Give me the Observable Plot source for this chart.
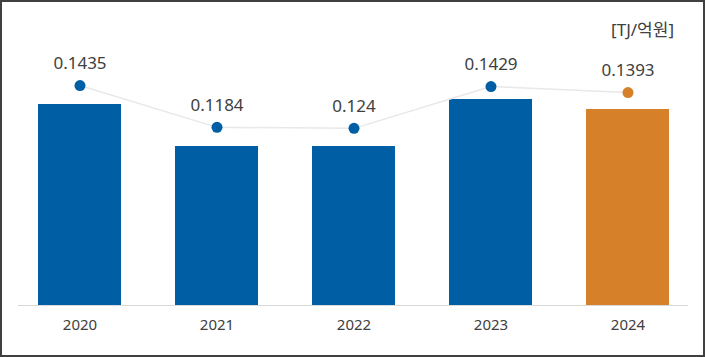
<!DOCTYPE html>
<html>
<head>
<meta charset="utf-8">
<script src="https://cdn.jsdelivr.net/npm/d3@7"></script>
<script src="https://cdn.jsdelivr.net/npm/@observablehq/plot@0.6"></script>
<style>
  html, body { margin: 0; padding: 0; background: #fff; }
  #wrap { position: relative; width: 705px; height: 357px; overflow: hidden; font-family: "Noto Sans", "Noto Sans CJK KR", sans-serif; }
  #wrap svg { position: absolute; left: 0; top: 0; }
  #border { position: absolute; left: 0; top: 0; width: 705px; height: 357px; box-sizing: border-box; border: 2px solid #404040; pointer-events: none; }
  #unit { position: absolute; right: 31px; top: 16px; font-size: 17px; color: #404040; }
</style>
</head>
<body>
<div id="wrap">
  <div id="unit">[TJ/억원]</div>
  <div id="border"></div>
</div>
<script>
const years = ["2020", "2021", "2022", "2023", "2024"];
// bar heights (relative)
const barValues = [201, 159, 159, 206, 196];
// line point levels and their printed labels
const lineValues = [0.1435, 0.1184, 0.1178, 0.1429, 0.1393];
const lineLabels = ["0.1435", "0.1184", "0.124", "0.1429", "0.1393"];
const barColors = ["#005EA5", "#005EA5", "#005EA5", "#005EA5", "#D6802A"];

const bars = years.map((y, i) => ({year: y, value: barValues[i], color: barColors[i]}));
const pts = years.map((y, i) => ({year: y, value: lineValues[i], label: lineLabels[i], color: barColors[i]}));

const W = 705, H = 357;
const xScale = {domain: years, range: [10.4, 696.6], paddingInner: 0.395, paddingOuter: 0.1975};

const barPlot = Plot.plot({
  width: W, height: H,
  marginLeft: 18, marginRight: 17, marginTop: 0, marginBottom: 52,
  style: {fontFamily: "Noto Sans, sans-serif", fontSize: "15px", color: "#404040", background: "transparent", overflow: "visible"},
  x: {...xScale, type: "band", label: null},
  y: {domain: [0, 220], range: [305, 85], axis: null},
  marks: [
    Plot.barY(bars, {x: "year", y: "value", fill: "color"}),
    Plot.ruleY([0], {stroke: "#d9d9d9", strokeWidth: 1.2}),
    Plot.axisX({tickSize: 0, tickPadding: 14, fill: "#404040", fontSize: 15})
  ]
});

const linePlot = Plot.plot({
  width: W, height: H,
  marginLeft: 18, marginRight: 17, marginTop: 0, marginBottom: 52,
  style: {fontFamily: "Noto Sans, sans-serif", fontSize: "17px", background: "transparent", overflow: "visible"},
  x: {...xScale, type: "band", axis: null},
  y: {domain: [0.10, 0.15], range: [157.5, 74.2], axis: null},
  marks: [
    Plot.line(pts, {x: "year", y: "value", stroke: "#e8e8e8", strokeWidth: 1.5}),
    Plot.dot(pts, {x: "year", y: "value", r: 5.5, fill: "color", stroke: null}),
    Plot.text(pts, {x: "year", y: "value", text: "label", dy: -22, fill: "#404040", fontSize: 17})
  ]
});

const wrap = document.getElementById("wrap");
wrap.insertBefore(linePlot, wrap.firstChild);
wrap.insertBefore(barPlot, wrap.firstChild);
</script>
</body>
</html>
